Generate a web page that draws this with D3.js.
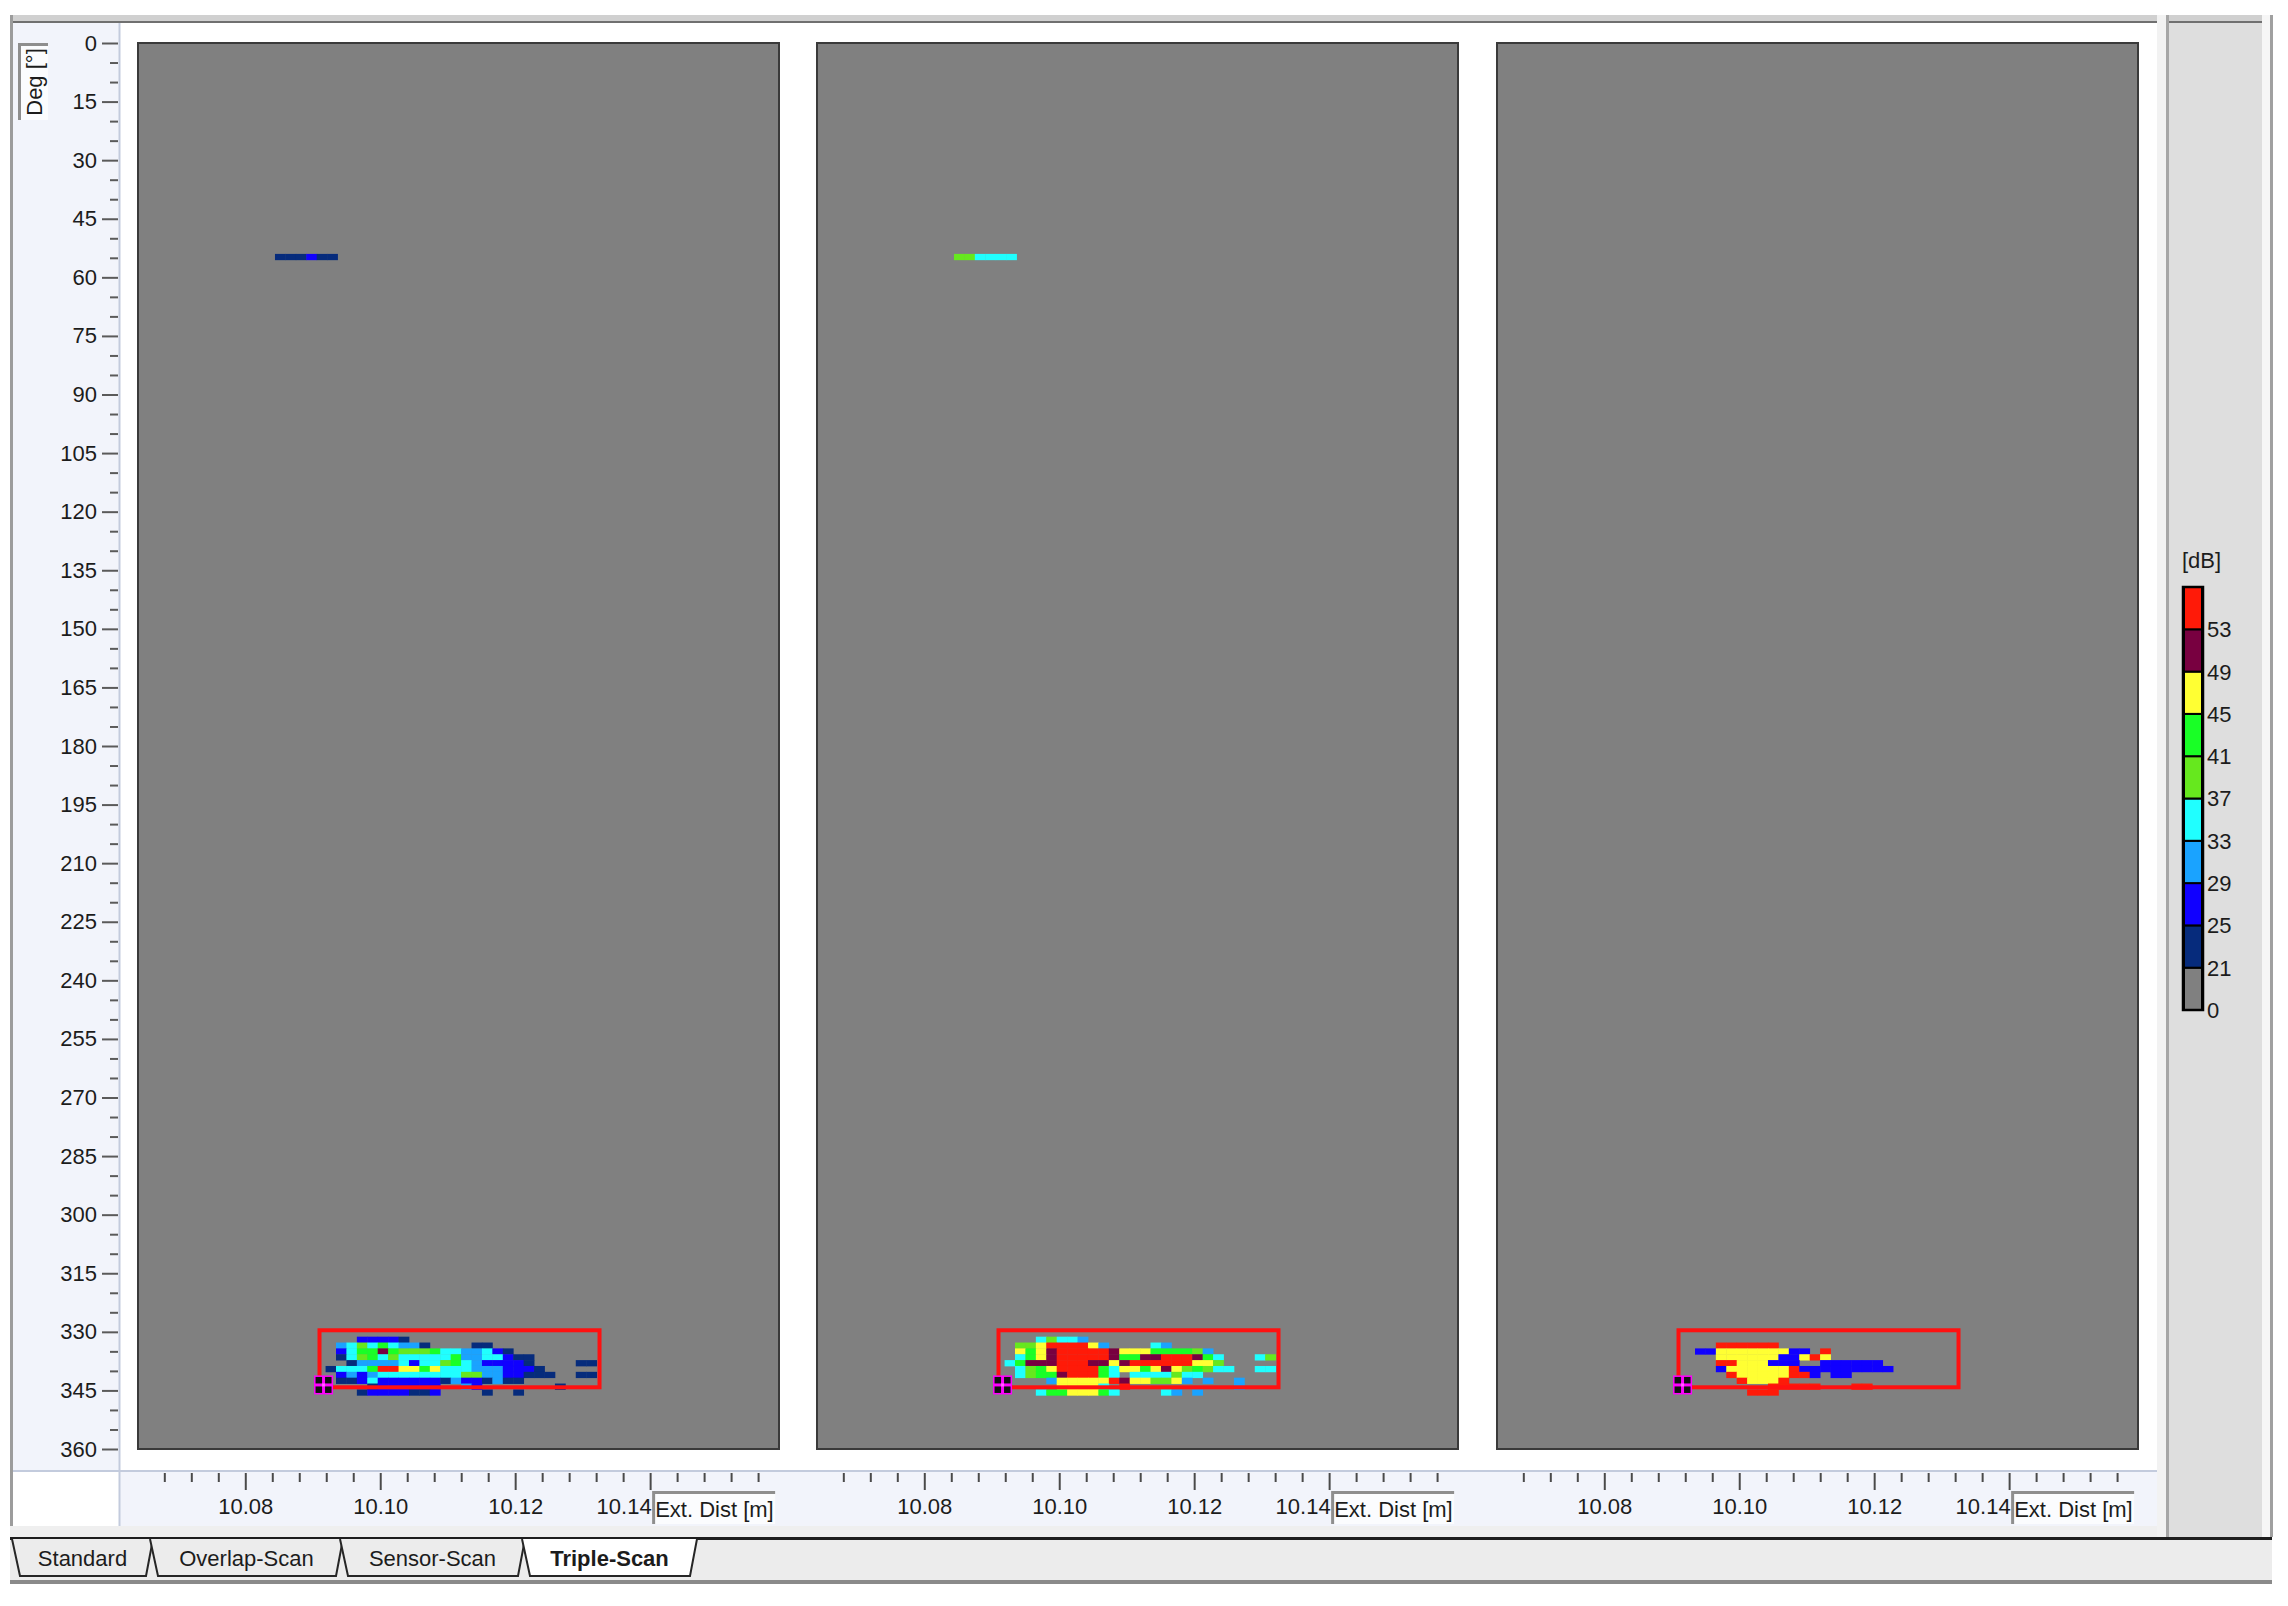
<!DOCTYPE html>
<html><head><meta charset="utf-8">
<script src="https://cdn.jsdelivr.net/npm/d3@7/dist/d3.min.js"></script>
<style>
body{margin:0;background:#fff;}
svg{display:block;}
text{font-family:"Liberation Sans",Arial,sans-serif;fill:#1c1c1c;}
</style>
</head><body>
<svg id="chart" width="2288" height="1606"></svg>
<script>
// ---------------- data ----------------
const degDomain = [0, 360];
const degMajorTicks = [0,15,30,45,60,75,90,105,120,135,150,165,180,195,210,225,240,255,270,285,300,315,330,345,360];
const distDomain = [10.0641, 10.1591];
const distMajorTicks = [10.08, 10.10, 10.12, 10.14];
const distTickLabels = ["10.08", "10.10", "10.12", "10.14"];
const dbBreaks = [21, 25, 29, 33, 37, 41, 45, 49, 53];
const dbColors = ["#808080","#062b7c","#1000ff","#1aa3ff","#20ffff","#66e81e","#19ff26","#ffff33","#780040","#ff1a08"];
const legendLabels = ["0","21","25","29","33","37","41","45","49","53"];
// cell code -> representative dB value
const levelDb = {n:23, b:27, l:31, c:35, g:39, G:43, y:47, m:51, r:55};

const cellDist = 0.001545;   // m per cell
const cellDeg = 1.5;         // deg per cell
const blobStartDist = 10.0919;
const blobStartDeg = 331.24;
const lineStartDist = 10.0844;
const lineDeg = 54.0;

const scan1Line = "nnnbnn";
const scan2Line = "ggcccc";
const scan3Line = "";

const scan1Rows = [
  "...bbbbn..................",
  ".lcgcGclln....nn..........",
  ".bcGGmGgggGccllcbn........",
  ".ncgGcgcccccGllccbnn......",
  "..nllllcbccgGclbbbbn....nn",
  "ncccGrryyGyccclllbbbn.....",
  ".blblccccccccggllbbnnn..nn",
  ".nnbcbbbbbbnlbbnlnn.......",
  "....nbbbbbb..lb.......n...",
  "...nbbbbnnb....n..n......."
];
const scan2Rows = [
  "...cgccl..................",
  ".ggyrrrryl....cl..........",
  ".yGymrrrrrmyyyGGGGgl......",
  ".cGymrrrrrmGGmmrrrmGc...cg",
  "cGmmmrrrmmymrrrrrryyg.....",
  ".cgGyrrrrGcyyGymygGgcc..cc",
  ".cgGGmrrrGc.ccccgcc.......",
  "....lyyyyyrmyyggyl.l..l...",
  ".....yyyyc.r..........l...",
  "...cGGyyyGc....cl.l......."
];
const scan3Rows = [
  "..........................",
  "...rrrrrr.................",
  ".bbyyyyyyybb.r............",
  "...yyyyyybbyry............",
  "...rryyybbb..bbbbbb.......",
  "...byyyyyyrbbbbbbbbb......",
  "....ryyyyyrrb.bb..........",
  ".....ryyyr................",
  "........rrrrr...rr........",
  "......rrr................."
];
const gateDist = [10.0910, 10.1325];
const gateDeg = [329.6, 344.2];
const markerPos = [10.0916, 343.6];

const tabNames = ["Standard", "Overlap-Scan", "Sensor-Scan", "Triple-Scan"];

// ---------------- layout ----------------
const svg = d3.select("#chart");
const plotTop = 43, plotBottom = 1449;
const panelLefts = [138, 817, 1497];
const panelW = 641;
const axisBg = "#f2f4fb";

const y = d3.scaleLinear().domain(degDomain).range([plotTop, plotBottom]);
const color = d3.scaleThreshold().domain(dbBreaks).range(dbColors);

// frame
svg.append("rect").attr("x",0).attr("y",0).attr("width",2288).attr("height",1606).attr("fill","#fff");
svg.append("rect").attr("x",10).attr("y",15).attr("width",2148).attr("height",7).attr("fill","#d0d0d0");
svg.append("rect").attr("x",10).attr("y",21).attr("width",2148).attr("height",2).attr("fill","#707070");
svg.append("rect").attr("x",10).attr("y",15).attr("width",3).attr("height",1513).attr("fill","#9c9c9c");
svg.append("rect").attr("x",13).attr("y",23).attr("width",106).attr("height",1448).attr("fill",axisBg);
svg.append("rect").attr("x",120).attr("y",1472).attr("width",2037).attr("height",54).attr("fill",axisBg);
svg.append("line").attr("x1",119.5).attr("x2",119.5).attr("y1",23).attr("y2",1526).attr("stroke","#c3cbdd").attr("stroke-width",2);
svg.append("line").attr("x1",13).attr("x2",2157).attr("y1",1471).attr("y2",1471).attr("stroke","#c3cbdd").attr("stroke-width",2);
svg.append("rect").attr("x",10).attr("y",1526).attr("width",2262).attr("height",11).attr("fill","#efefef");
// right strip + legend panel
svg.append("rect").attr("x",2157).attr("y",15).attr("width",9).attr("height",1522).attr("fill","#f2f2f2");
svg.append("rect").attr("x",2166).attr("y",15).attr("width",3).attr("height",1522).attr("fill","#a6a6a6");
svg.append("rect").attr("x",2169).attr("y",15).attr("width",93).attr("height",1522).attr("fill","#dedede");
svg.append("rect").attr("x",2169).attr("y",15).attr("width",93).attr("height",7).attr("fill","#d0d0d0");
svg.append("rect").attr("x",2169).attr("y",21).attr("width",93).attr("height",2).attr("fill","#707070");
svg.append("rect").attr("x",2262).attr("y",15).attr("width",8).attr("height",1522).attr("fill","#f6f6f6");
svg.append("rect").attr("x",2270).attr("y",15).attr("width",3).attr("height",1522).attr("fill","#a0a0a0");

// Deg label box
svg.append("rect").attr("x",18).attr("y",43).attr("width",30).attr("height",77).attr("fill","#fbfcfe");
svg.append("path").attr("d","M19.5,120 V44.5 H48").attr("fill","none").attr("stroke","#8e8e8e").attr("stroke-width",3);
svg.append("text").attr("transform","translate(42,82) rotate(-90)").attr("text-anchor","middle")
  .attr("font-size",22).text("Deg [°]");

// Left axis (minor and major ticks in separate groups)
const minorDeg = d3.range(0, 361, 5).filter(v => v % 15 !== 0);
const gLm = svg.append("g").attr("transform","translate(118,0)");
gLm.call(d3.axisLeft(y).tickValues(minorDeg).tickSize(8).tickFormat(""));
const gL = svg.append("g").attr("transform","translate(118,0)");
gL.call(d3.axisLeft(y).tickValues(degMajorTicks).tickSize(16).tickPadding(5).tickFormat(d3.format("d")));
[gLm, gL].forEach(g => {
  g.selectAll(".domain").remove();
  g.selectAll("line").attr("stroke","#5a5a5a").attr("stroke-width",2);
});
gL.selectAll("text").attr("font-size",22).attr("fill","#1c1c1c").attr("font-family","Liberation Sans, Arial, sans-serif");

// Panels
const rowsByPanel = [scan1Rows, scan2Rows, scan3Rows];
const linesByPanel = [scan1Line, scan2Line, scan3Line];

function drawRow(g, x, row, startDist, deg0) {
  Array.from(row).forEach((ch, i) => {
    if (ch === ".") return;
    const d0 = startDist + i * cellDist;
    const x0 = x(d0), x1 = x(d0 + cellDist);
    g.append("rect")
      .attr("x", x0).attr("y", y(deg0))
      .attr("width", x1 - x0 + 0.4).attr("height", y(deg0 + cellDeg) - y(deg0) + 0.4)
      .attr("fill", color(levelDb[ch]));
  });
}

const minorDist = d3.range(10.068, 10.1570, 0.004).filter(v => Math.abs(v*50 - Math.round(v*50)) > 1e-6);

panelLefts.forEach((left, p) => {
  const x = d3.scaleLinear().domain(distDomain).range([left, left + panelW]);
  const g = svg.append("g");
  g.append("rect").attr("x", left).attr("y", plotTop).attr("width", panelW).attr("height", plotBottom - plotTop)
    .attr("fill", "#808080").attr("stroke", "#3a3a3a").attr("stroke-width", 2);

  rowsByPanel[p].forEach((row, r) => drawRow(g, x, row, blobStartDist, blobStartDeg + r * cellDeg));
  if (linesByPanel[p]) drawRow(g, x, linesByPanel[p], lineStartDist, lineDeg);

  // gate box
  g.append("rect").attr("x", x(gateDist[0])).attr("y", y(gateDeg[0]))
    .attr("width", x(gateDist[1]) - x(gateDist[0])).attr("height", y(gateDeg[1]) - y(gateDeg[0]))
    .attr("fill", "none").attr("stroke", "#ff1010").attr("stroke-width", 4);

  // marker
  const mx = x(markerPos[0]), my = y(markerPos[1]);
  const mk = g.append("g").attr("transform", `translate(${mx},${my})`);
  mk.append("rect").attr("x",-9.5).attr("y",-9.5).attr("width",19).attr("height",19).attr("fill","#ff00ff");
  [[-8,-8],[1.5,-8],[-8,1.5],[1.5,1.5]].forEach(([a,b]) => {
    mk.append("rect").attr("x",a).attr("y",b).attr("width",6.5).attr("height",6.5).attr("fill","#111");
  });
  mk.append("rect").attr("x",-1.5).attr("y",-1.5).attr("width",3).attr("height",3).attr("fill","#ff66ff");

  // bottom axis (minor and major in separate groups)
  const gBm = svg.append("g").attr("transform", "translate(0,1473)");
  gBm.call(d3.axisBottom(x).tickValues(minorDist).tickSize(9).tickFormat(""));
  const gB = svg.append("g").attr("transform", "translate(0,1473)");
  gB.call(d3.axisBottom(x).tickValues(distMajorTicks).tickSize(17).tickPadding(8)
    .tickFormat((d, i) => distTickLabels[i]));
  [gBm, gB].forEach(a => {
    a.selectAll(".domain").remove();
    a.selectAll("line").attr("stroke", "#4a4a4a").attr("stroke-width", 2);
  });
  gB.selectAll("text").attr("font-size", 22).attr("fill", "#1c1c1c").attr("font-family","Liberation Sans, Arial, sans-serif");
  gB.selectAll(".tick text").filter(d => d === distMajorTicks[distMajorTicks.length - 1])
    .attr("text-anchor", "end").attr("x", 1);

  // Ext. Dist box
  const bx = x(distMajorTicks[distMajorTicks.length - 1]) + 2;
  svg.append("rect").attr("x", bx).attr("y", 1491).attr("width", 123).attr("height", 33).attr("fill", "#fbfcfe");
  svg.append("path").attr("d", `M${bx+1.5},1524 V1492.5 H${bx+123}`).attr("fill","none").attr("stroke","#8e8e8e").attr("stroke-width",3);
  svg.append("text").attr("x", bx + 3).attr("y", 1517).attr("font-size", 22).text("Ext. Dist [m]");
});

// Legend
const ly = d3.scaleLinear().domain([0, 10]).range([1010, 587]);
const lg = svg.append("g");
svg.append("text").attr("x", 2182).attr("y", 568).attr("font-size", 22).text("[dB]");
dbColors.forEach((c, i) => {
  lg.append("rect").attr("x", 2184).attr("y", ly(i + 1)).attr("width", 18).attr("height", ly(i) - ly(i + 1)).attr("fill", c)
    .attr("stroke", "#000").attr("stroke-width", 2);
});
lg.append("rect").attr("x", 2183).attr("y", ly(10)).attr("width", 20).attr("height", ly(0) - ly(10))
  .attr("fill", "none").attr("stroke", "#000").attr("stroke-width", 2.5);
legendLabels.forEach((t, i) => {
  lg.append("text").attr("x", 2207).attr("y", ly(i)).attr("dy", "0.36em").attr("font-size", 22).text(t);
});

// Tabs
svg.append("rect").attr("x", 10).attr("y", 1537).attr("width", 2262).attr("height", 46).attr("fill", "#ececec");
svg.append("rect").attr("x", 10).attr("y", 1537).attr("width", 2262).attr("height", 3).attr("fill", "#1e1e1e");
svg.append("rect").attr("x", 10).attr("y", 1580).attr("width", 2262).attr("height", 4).attr("fill", "#8a8a8a");
const tabSpans = [[12, 153], [150, 343], [340, 525], [522, 697]];
tabNames.forEach((name, i) => {
  const [a, b] = tabSpans[i];
  const active = i === tabNames.length - 1;
  svg.append("path")
    .attr("d", `M${a},1539 L${a + 8},1576 L${b - 7},1576 L${b},1539`)
    .attr("fill", active ? "#ffffff" : "#ececec").attr("stroke", "#262626").attr("stroke-width", 2);
  svg.append("text").attr("x", (a + b) / 2).attr("y", 1566).attr("text-anchor", "middle")
    .attr("font-size", 22).attr("font-weight", active ? "bold" : "normal").text(name);
});
</script>
</body></html>
